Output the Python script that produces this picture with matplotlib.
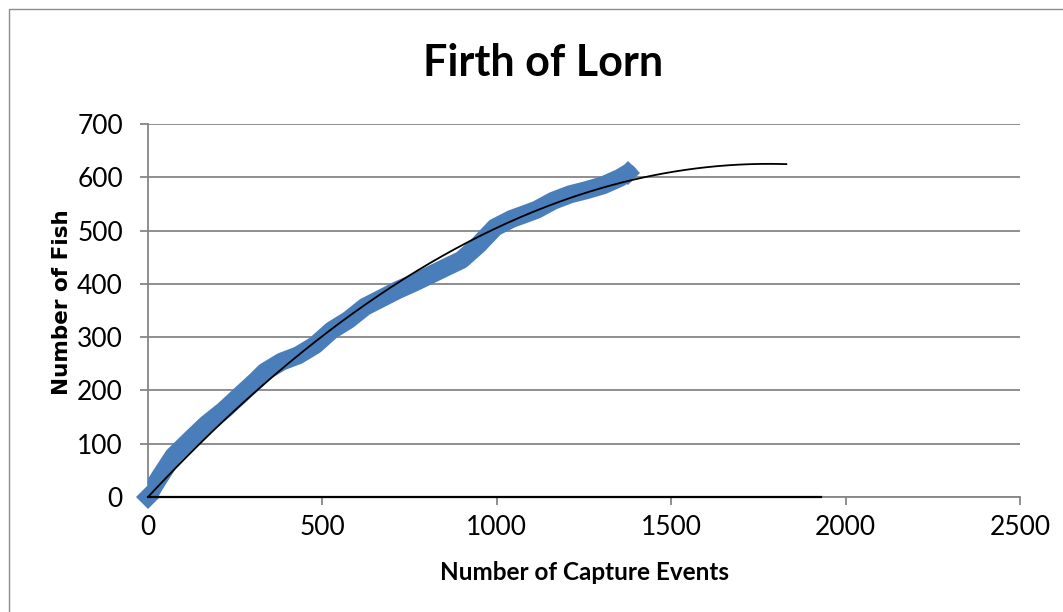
import numpy as np
import matplotlib
matplotlib.use("Agg")
import matplotlib.pyplot as plt
from matplotlib.patches import Rectangle

# ---- data ----
events = [0, 15, 34, 73, 120, 168, 216, 264, 312, 335, 383, 431, 479, 527,
          574, 622, 670, 718, 756, 804, 851, 899, 947, 995, 1043, 1081, 1114,
          1162, 1210, 1258, 1305, 1353, 1376, 1385]
fish = [0, 18, 38, 77, 107, 137, 162, 191, 220, 235, 254, 266, 285, 313,
        332, 357, 373, 389, 400, 415, 430, 445, 473, 506, 522, 531, 539,
        556, 568, 576, 585, 599, 608, 600]
# polynomial trendline (order 2): y = c1*x + c2*x^2
trend_c1 = 0.7026
trend_c2 = -1.974e-4
trend_start = 0
trend_end = 1830          # forecast forward
zero_x = [0, 1930]        # black zero series
zero_y = [0, 0]

title = "Firth of Lorn"
xlabel = "Number of Capture Events"
ylabel = "Number of Fish"
xticks = [0, 500, 1000, 1500, 2000, 2500]
yticks = [0, 100, 200, 300, 400, 500, 600, 700]

W, H = 1063, 612
fig = plt.figure(figsize=(W / 100, H / 100), dpi=100)
fig.patch.set_facecolor("white")
fig.patches.append(Rectangle((9 / W, -0.1), 1.2, 1 - 9 / H + 0.1, transform=fig.transFigure,
                             fill=False, edgecolor="#8c8c8c", linewidth=1.0))

ax = fig.add_axes([148 / W, 1 - 497 / H, (1020 - 148) / W, (497 - 124) / H])
ax.set_xlim(0, 2500)
ax.set_ylim(0, 700)

grid_c = "#868686"
for y in yticks:
    ax.axhline(y, color=grid_c, lw=1.3, zorder=1)

blue = "#4a7ebb"
ax.plot(events, fish, color=blue, lw=13, solid_capstyle="butt", solid_joinstyle="round",
        zorder=3)
ax.plot([events[0], events[-2]], [fish[0], fish[-2]], linestyle="none", marker="D",
        ms=12, mew=0, color=blue, zorder=3, clip_on=False)

tx = np.linspace(trend_start, trend_end, 300)
ax.plot(tx, trend_c1 * tx + trend_c2 * tx ** 2, color="black", lw=1.3, zorder=4)

ax.plot(zero_x, zero_y, color="black", lw=1.6, zorder=4, clip_on=False)

for s in ["top", "right"]:
    ax.spines[s].set_visible(False)
ax.spines["left"].set_color(grid_c)
ax.spines["left"].set_linewidth(1.3)
ax.spines["bottom"].set_color(grid_c)
ax.spines["bottom"].set_linewidth(1.3)

tick_font = dict(family="Lato", size=19)
ax.set_xticks(xticks)
ax.set_yticks(yticks)
ax.set_xticklabels([str(v) for v in xticks], **tick_font)
ax.set_yticklabels([str(v) for v in yticks], **tick_font)
ax.tick_params(axis="both", color=grid_c, width=1.3, length=6, direction="out")
ax.tick_params(axis="x", pad=7)
ax.tick_params(axis="y", pad=12)

fig.text(0.511, 1 - 63 / H, title, ha="center", va="center",
         family="Lato", weight="bold", size=31)
fig.text(585 / W, 1 - 573 / H, xlabel, ha="center", va="center",
         family="Lato", weight="bold", size=17.5)
fig.text(62 / W, 1 - 302 / H, ylabel, ha="center", va="center", rotation=90,
         family="DejaVu Sans", weight="bold", size=15.5)

fig.savefig("out.png", dpi=100, facecolor="white")
